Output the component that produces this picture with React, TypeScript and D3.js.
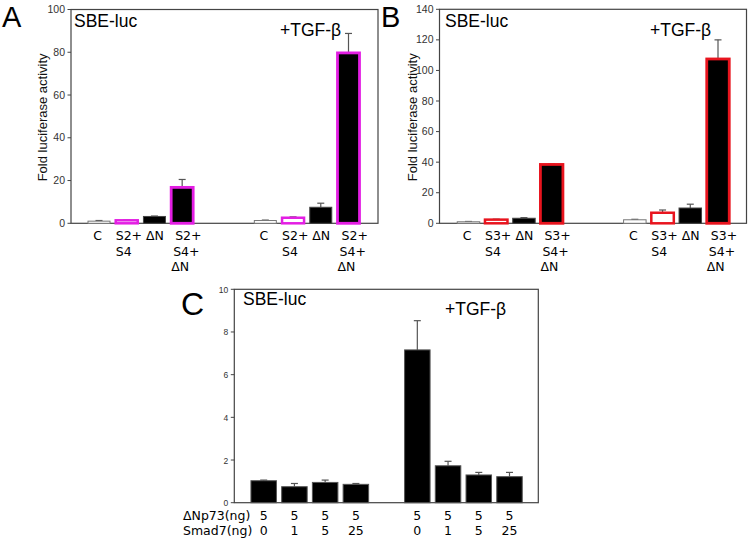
import React from "react";
import * as d3 from "d3";

// ---------- Data ----------
const groupLabelsA: string[][] = [["C"], ["S2+", "S4"], ["ΔN"], ["S2+", "S4+", "ΔN"]];
const groupLabelsB: string[][] = [["C"], ["S3+", "S4"], ["ΔN"], ["S3+", "S4+", "ΔN"]];
const valuesA = [1.0, 1.4, 3.2, 16.8, 1.3, 2.6, 7.5, 79.7];
const errorsA = [0.3, 0.1, 0.2, 3.7, 0.2, 0.4, 1.9, 9.1];
const valuesB = [1.0, 2.4, 3.3, 38.5, 2.3, 6.9, 10.0, 107.5];
const errorsB = [0.2, 0.3, 0.4, 0.3, 0.3, 1.8, 2.5, 12.5];
const valuesC = [1.03, 0.75, 0.95, 0.86, 7.16, 1.73, 1.3, 1.22];
const errorsC = [0.03, 0.15, 0.11, 0.04, 1.37, 0.21, 0.12, 0.2];
const dNp73C = ["5", "5", "5", "5", "5", "5", "5", "5"];
const smad7C = ["0", "1", "5", "25", "0", "1", "5", "25"];
const ticksA = [0, 20, 40, 60, 80, 100];
const ticksB = [0, 20, 40, 60, 80, 100, 120, 140];
const ticksC = [0, 2, 4, 6, 8, 10];
const yTitle = "Fold luciferase activity";
const reporter = "SBE-luc";
const treatment = "+TGF-β";

// ---------- Styles ----------
const MAG = "#e31ee3";
const RED = "#e8141e";
const FRAME = "#444";
const ERR = "#555";
const SANS = "'Liberation Sans', Arial, sans-serif";
const VERD = "'DejaVu Sans', Verdana, sans-serif";

type PanelProps = {
  letter: string;
  letterX: number;
  letterY: number;
  letterSize: number;
  frame: { x0: number; x1: number; y0: number; y1: number };
  yMax: number;
  ticks: number[];
  tickFont: number;
  slots: number[];
  centerRange: [number, number];
  barW: number;
  values: number[];
  errors: number[];
  fills: string[];
  strokes: string[];
  strokeWs: number[];
  reporterPos: [number, number];
  treatPos: [number, number];
  yTitleX?: number;
  children?: (x: (i: number) => number) => React.ReactNode;
};

function Panel(p: PanelProps) {
  const { frame } = p;
  const y = d3.scaleLinear().domain([0, p.yMax]).range([frame.y1, frame.y0]);
  const slotMax = d3.max(p.slots) as number;
  const xs = d3.scaleLinear().domain([0, slotMax]).range(p.centerRange);
  const cx = (i: number) => xs(p.slots[i]);
  return (
    <g>
      <text x={p.letterX} y={p.letterY} fontFamily={SANS} fontSize={p.letterSize} fill="#000">
        {p.letter}
      </text>
      <rect x={frame.x0} y={frame.y0} width={frame.x1 - frame.x0} height={frame.y1 - frame.y0}
        fill="none" stroke={FRAME} strokeWidth={1.2} />
      {p.ticks.map((t) => (
        <g key={t}>
          <line x1={frame.x0 - 3.5} x2={frame.x0} y1={y(t)} y2={y(t)} stroke={FRAME} strokeWidth={1} />
          <text x={frame.x0 - 6} y={y(t) + 3.5} textAnchor="end" fontFamily={SANS}
            fontSize={p.tickFont} fill="#333">{t}</text>
        </g>
      ))}
      {p.yTitleX !== undefined && (
        <text transform={`translate(${p.yTitleX},${(frame.y0 + frame.y1) / 2 + 1}) rotate(-90)`}
          textAnchor="middle" fontFamily={SANS} fontSize={13} fill="#111">{yTitle}</text>
      )}
      {p.values.map((v, i) => {
        const c = cx(i);
        const top = y(v + p.errors[i]);
        return (
          <g key={i}>
            <line x1={c} x2={c} y1={y(v)} y2={top} stroke={ERR} strokeWidth={1.2} />
            <line x1={c - 3.5} x2={c + 3.5} y1={top} y2={top} stroke={ERR} strokeWidth={1.2} />
            <rect x={c - p.barW / 2} y={y(v)} width={p.barW} height={y(0) - y(v)}
              fill={p.fills[i]} stroke={p.strokes[i]} strokeWidth={p.strokeWs[i]} />
          </g>
        );
      })}
      <text x={p.reporterPos[0]} y={p.reporterPos[1]} fontFamily={SANS} fontSize={17.5} fill="#000">{reporter}</text>
      <text x={p.treatPos[0]} y={p.treatPos[1]} fontFamily={SANS} fontSize={17.5} fill="#000">{treatment}</text>
      {p.children && p.children(cx)}
    </g>
  );
}

function CatLabels({ labels, cx, barW, rows }: { labels: string[][]; cx: (i: number) => number; barW: number; rows: number[] }) {
  const all = [...labels, ...labels];
  return (
    <g fontFamily={VERD} fontSize={12.5} fill="#000">
      {all.map((lines, i) => {
        const c = cx(i);
        if (lines.length === 1) {
          return (
            <text key={i} x={c + (lines[0] === "C" ? -1.5 : 0.5)} y={rows[0]} textAnchor="middle">{lines[0]}</text>
          );
        }
        const left = c - barW / 2 + (lines.length === 3 ? 4 : 0);
        return (
          <g key={i}>
            {lines.map((s, k) => (
              <text key={k} x={left - (lines.length === 3 ? k * 2 : 0)} y={rows[k]}>{s}</text>
            ))}
          </g>
        );
      })}
    </g>
  );
}

export default function App() {
  const fillsAB = ["white", "white", "black", "black", "white", "white", "black", "black"];
  const strokesA = ["#777", MAG, "#444", MAG, "#777", MAG, "#444", MAG];
  const strokesB = ["#777", RED, "#444", RED, "#777", RED, "#444", RED];
  const swAB = [1, 2.5, 1, 2.8, 1, 2.5, 1, 2.8];
  const rows = [240, 255.5, 270.5];
  return (
    <svg width={751} height={542} style={{ position: "absolute", left: 0, top: 0, background: "#fff" }}>
      <rect width={751} height={542} fill="#fff" />
      <Panel
        letter="A" letterX={2} letterY={27} letterSize={29}
        frame={{ x0: 71, x1: 378, y0: 9.5, y1: 223.3 }}
        yMax={100} ticks={ticksA} tickFont={10.5}
        slots={[0, 1, 2, 3, 6, 7, 8, 9]} centerRange={[99, 348.5]} barW={22}
        values={valuesA} errors={errorsA} fills={fillsAB} strokes={strokesA} strokeWs={swAB}
        reporterPos={[74, 27]} treatPos={[280, 35.5]} yTitleX={47}
      >
        {(cx) => <CatLabels labels={groupLabelsA} cx={cx} barW={22} rows={rows} />}
      </Panel>
      <Panel
        letter="B" letterX={381} letterY={27} letterSize={29}
        frame={{ x0: 439.5, x1: 746.5, y0: 9.3, y1: 223.3 }}
        yMax={140} ticks={ticksB} tickFont={10.5}
        slots={[0, 1, 2, 3, 6, 7, 8, 9]} centerRange={[468.5, 718]} barW={22.5}
        values={valuesB} errors={errorsB} fills={fillsAB} strokes={strokesB} strokeWs={swAB}
        reporterPos={[445, 27]} treatPos={[650, 35.5]} yTitleX={417}
      >
        {(cx) => <CatLabels labels={groupLabelsB} cx={cx} barW={22.5} rows={rows} />}
      </Panel>
      <Panel
        letter="C" letterX={181} letterY={315} letterSize={32}
        frame={{ x0: 234.3, x1: 538.3, y0: 289.3, y1: 502.7 }}
        yMax={10} ticks={ticksC} tickFont={8.5}
        slots={[0, 1, 2, 3, 5, 6, 7, 8]} centerRange={[263.7, 509.5]} barW={25.5}
        values={valuesC} errors={errorsC}
        fills={valuesC.map(() => "black")} strokes={valuesC.map(() => "#555")} strokeWs={valuesC.map(() => 1)}
        reporterPos={[243, 305]} treatPos={[445, 315]}
      >
        {(cx) => (
          <g fontFamily={VERD} fontSize={12.5} fill="#000">
            <text x={183} y={519.5}>ΔNp73(ng)</text>
            <text x={183} y={535}>Smad7(ng)</text>
            {dNp73C.map((s, i) => (
              <text key={"a" + i} x={cx(i)} y={519.5} textAnchor="middle">{s}</text>
            ))}
            {smad7C.map((s, i) => (
              <text key={"b" + i} x={cx(i)} y={535} textAnchor="middle">{s}</text>
            ))}
          </g>
        )}
      </Panel>
    </svg>
  );
}
